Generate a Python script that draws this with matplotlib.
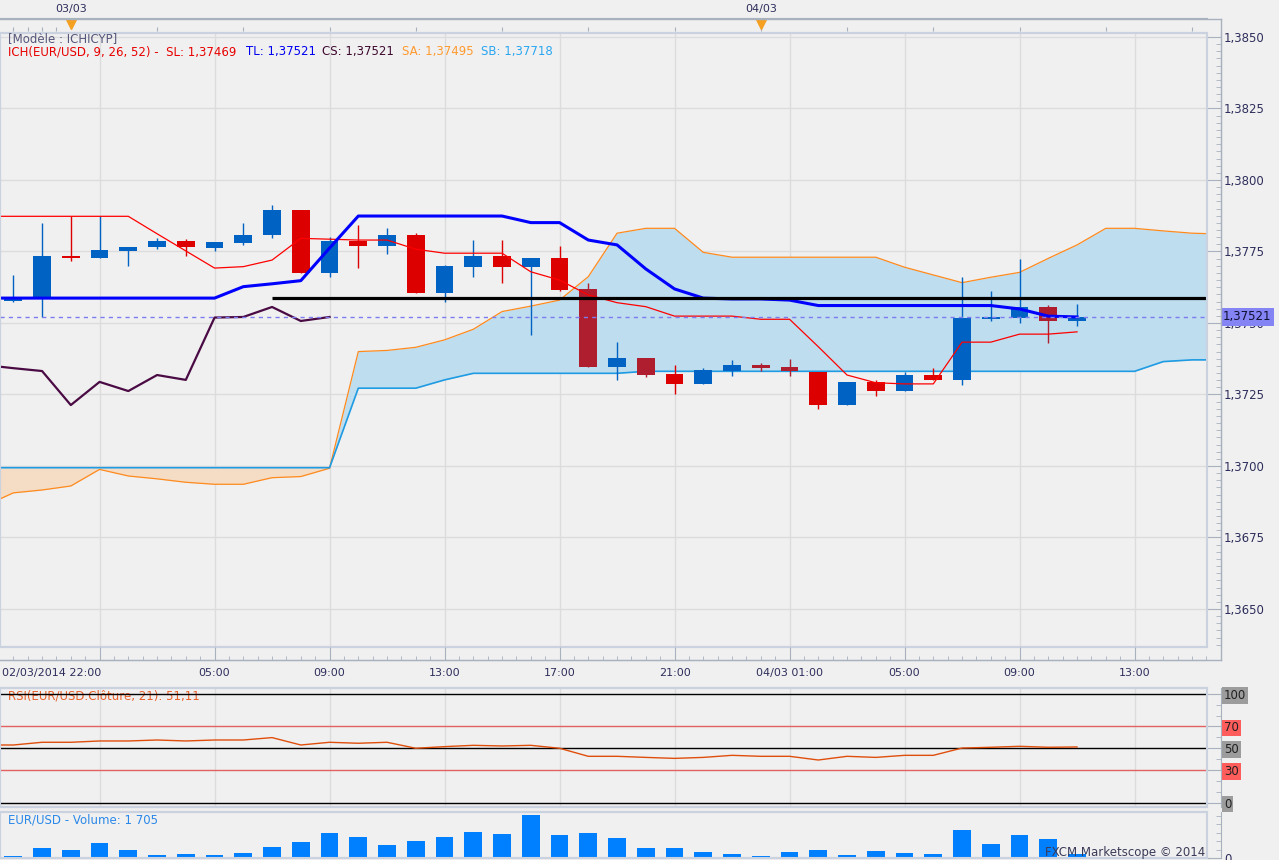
import matplotlib
matplotlib.use("Agg")
import matplotlib.pyplot as plt
import matplotlib.transforms as mtransforms
from matplotlib.lines import Line2D
from matplotlib.patches import Rectangle
from matplotlib.ticker import FuncFormatter, MultipleLocator, FixedLocator
import numpy as np

W, H = 1279, 860
PT = 72 / 100  # points per pixel at dpi 100

# hourly EUR/USD candles, 02/03/2014 22:00 -> 04/03/2014 11:00
OPEN = [1.37578, 1.37583, 1.37734, 1.37728, 1.37753, 1.37764, 1.37787, 1.37762,
        1.37781, 1.37806, 1.37895, 1.37676, 1.37788, 1.37769, 1.37808, 1.37606,
        1.37697, 1.37734, 1.37697, 1.37727, 1.37619, 1.37347, 1.37378, 1.37322,
        1.37287, 1.37332, 1.37353, 1.37346, 1.37329, 1.37213, 1.37294, 1.37262,
        1.37318, 1.37301, 1.37514, 1.37519, 1.37556, 1.37507]
HIGH = [1.37668, 1.37850, 1.37874, 1.37874, 1.37766, 1.37798, 1.37794, 1.37783,
        1.37850, 1.37913, 1.37895, 1.37799, 1.37843, 1.37832, 1.37815, 1.37704,
        1.37790, 1.37790, 1.37728, 1.37769, 1.37640, 1.37434, 1.37378, 1.37353,
        1.37344, 1.37371, 1.37360, 1.37374, 1.37329, 1.37294, 1.37301, 1.37329,
        1.37342, 1.37661, 1.37612, 1.37724, 1.37563, 1.37566]
LOW = [1.37574, 1.37521, 1.37718, 1.37728, 1.37699, 1.37759, 1.37734, 1.37753,
       1.37773, 1.37798, 1.37676, 1.37662, 1.37694, 1.37741, 1.37606, 1.37574,
       1.37662, 1.37641, 1.37458, 1.37613, 1.37347, 1.37301, 1.37311, 1.37252,
       1.37287, 1.37315, 1.37333, 1.37315, 1.37199, 1.37213, 1.37245, 1.37262,
       1.37301, 1.37283, 1.37507, 1.37500, 1.37430, 1.37490]
CLOSE = [1.37592, 1.37734, 1.37728, 1.37755, 1.37766, 1.37787, 1.37764, 1.37783,
         1.37808, 1.37895, 1.37676, 1.37788, 1.37769, 1.37808, 1.37606, 1.37699,
         1.37734, 1.37697, 1.37727, 1.37615, 1.37347, 1.37378, 1.37319, 1.37287,
         1.37336, 1.37353, 1.37342, 1.37332, 1.37213, 1.37294, 1.37262, 1.37318,
         1.37301, 1.37519, 1.37521, 1.37556, 1.37507, 1.37521]
VOLUME = [900, 4200, 3400, 6400, 3400, 1300, 1700, 1300, 2100, 4700, 6800, 10600,
          8900, 5500, 7200, 8900, 11000, 10200, 18300, 9800, 10600, 8500, 4200, 4200,
          2500, 1700, 900, 2500, 3400, 1300, 3000, 2100, 1700, 11900, 6000, 9800,
          8100, 1705]

# indicator lines start one bar before the first visible candle (index -1)
TENKAN = [1.37587, 1.37587, 1.37587, 1.37587, 1.37587, 1.37587, 1.37587, 1.37587,
          1.37587, 1.37627, 1.37637, 1.37648, 1.37762, 1.37874, 1.37874, 1.37874,
          1.37874, 1.37874, 1.37874, 1.37851, 1.37851, 1.37790, 1.37773, 1.37689,
          1.37619, 1.37587, 1.37584, 1.37584, 1.37580, 1.37561, 1.37561, 1.37561,
          1.37561, 1.37561, 1.37561, 1.37561, 1.37549, 1.37524, 1.37521]
KIJUN = [1.37873, 1.37873, 1.37873, 1.37873, 1.37873, 1.37873, 1.37812, 1.37752,
         1.37692, 1.37697, 1.37720, 1.37796, 1.37793, 1.37790, 1.37790, 1.37758,
         1.37744, 1.37744, 1.37744, 1.37679, 1.37650, 1.37598, 1.37571, 1.37557,
         1.37524, 1.37524, 1.37524, 1.37513, 1.37513, 1.37417, 1.37318, 1.37291,
         1.37287, 1.37287, 1.37433, 1.37433, 1.37461, 1.37461, 1.37469]
RSI = [52.9, 52.9, 55.4, 55.4, 56.6, 56.6, 57.5, 56.6, 57.5, 57.5, 59.7, 52.9, 55.4,
       54.5, 55.4, 49.9, 51.4, 52.6, 52.0, 52.6, 49.9, 42.5, 42.5, 41.5, 40.6, 41.5,
       43.4, 42.5, 42.5, 39.1, 42.5, 41.5, 43.4, 43.4, 50.1, 50.8, 51.7, 50.8, 51.1]
# senkou spans (already shifted forward), index -1 .. 42
SENKOU_A = [1.36860, 1.36906, 1.36916, 1.36930, 1.36988, 1.36965, 1.36955, 1.36943,
            1.36936, 1.36936, 1.36959, 1.36963, 1.36992, 1.37400, 1.37404, 1.37415,
            1.37441, 1.37478, 1.37540, 1.37559, 1.37580, 1.37662, 1.37814, 1.37831,
            1.37831, 1.37747, 1.37730, 1.37730, 1.37730, 1.37730, 1.37730, 1.37730,
            1.37695, 1.37668, 1.37641, 1.37660, 1.37677, 1.37726, 1.37773, 1.37831,
            1.37831, 1.37822, 1.37814, 1.37811]
SENKOU_B = [1.36994] * 13 + [1.37272, 1.37272, 1.37272, 1.37301] + [1.37324] * 6 \
    + [1.37331] * 18 + [1.37365, 1.37371, 1.37371]

SUPPORT_LEVEL = 1.37587
SUPPORT_FROM = 9

TIME_TICKS = [3, 7, 11, 15, 19, 23, 27, 31, 35, 39]
TIME_LABELS = ["", "05:00", "09:00", "13:00", "17:00", "21:00", "04/03 01:00",
               "05:00", "09:00", "13:00"]
FIRST_LABEL = "02/03/2014 22:00"
DAY_TICKS = [2, 26]
DAY_LABELS = ["03/03", "04/03"]

BG = "#F0F0F0"
FRAME = "#C9D2DE"
GRID = "#DCDCDC"
AXCOL = "#A8B1BE"
TXT = "#2E2E5C"
BLUE_C = "#0062C2"
RED_C = "#DD0000"
DARKRED_C = "#AE1E2E"

XMIN, XMAX = -0.463, 41.52


def rect(x0, y0, x1, y1):
    return [x0 / W, 1 - y1 / H, (x1 - x0) / W, (y1 - y0) / H]


def fig_line(fig, x0, y0, x1, y1, color=AXCOL, lw=1.0):
    fig.add_artist(Line2D([x0 / W, x1 / W], [1 - y0 / H, 1 - y1 / H],
                          transform=fig.transFigure, color=color, lw=lw))


def style_panel(ax, vgrid=True):
    ax.set_facecolor(BG)
    ax.set_xlim(XMIN, XMAX)
    for s in ("left", "top", "bottom"):
        ax.spines[s].set_color(FRAME)
        ax.spines[s].set_linewidth(1.5)
    ax.spines["right"].set_position(("outward", 14 * PT))
    ax.spines["right"].set_color(AXCOL)
    ax.yaxis.tick_right()
    ax.tick_params(axis="y", which="both", direction="in", colors=AXCOL,
                   labelcolor=TXT, labelsize=8.5)
    ax.tick_params(axis="y", which="major", length=14 * PT, pad=3 * PT)
    ax.tick_params(axis="y", which="minor", length=5 * PT)
    ax.set_xticks(TIME_TICKS)
    ax.tick_params(axis="x", length=0, labelbottom=False)
    if vgrid:
        ax.grid(axis="x", color=GRID, lw=1)
    ax.set_axisbelow(True)
    ax.add_patch(Rectangle((0, 0), 1, 1, transform=ax.transAxes, fill=False,
                           edgecolor=FRAME, lw=1.5, clip_on=False, zorder=20))


fig = plt.figure(figsize=(W / 100, H / 100), dpi=100)
fig.patch.set_facecolor(BG)

# ---------------- main ichimoku panel ----------------
ax = fig.add_axes(rect(0, 33, 1207, 647))
style_panel(ax)
ax.set_ylim(1.36367, 1.38514)
ax.yaxis.set_major_locator(MultipleLocator(0.0025))
ax.yaxis.set_minor_locator(MultipleLocator(0.00025))
ax.yaxis.set_major_formatter(FuncFormatter(lambda v, _: f"{v:.4f}".replace(".", ",")))
ax.grid(axis="y", color=GRID, lw=1)

idx = np.arange(len(CLOSE))
o, h, l, c = map(np.array, (OPEN, HIGH, LOW, CLOSE))
sa, sb = np.array(SENKOU_A), np.array(SENKOU_B)
cx = np.arange(-1, len(sa) - 1)

ax.fill_between(cx, sa, sb, where=sa >= sb, interpolate=True, color="#BEDDEE",
                lw=0, zorder=1)
ax.fill_between(cx, sa, sb, where=sa < sb, interpolate=True, color="#F4DCC5",
                lw=0, zorder=1)
ax.plot(cx, sa, color="#FF8A1E", lw=0.9, zorder=2)
ax.plot(cx, sb, color="#1E9BE3", lw=1.2, zorder=2)

# candles: bearish bars inside the cloud get the darker red
cloud_lo = np.minimum(sa[1:len(c) + 1], sb[1:len(c) + 1])
cloud_hi = np.maximum(sa[1:len(c) + 1], sb[1:len(c) + 1])
mid = (o + c) / 2
colors = []
for i in idx:
    if c[i] >= o[i]:
        colors.append(BLUE_C)
    elif cloud_lo[i] <= mid[i] <= cloud_hi[i]:
        colors.append(DARKRED_C)
    else:
        colors.append(RED_C)
ax.vlines(idx, l, h, colors=colors, lw=1.0, zorder=3)
ax.bar(idx, np.abs(c - o), bottom=np.minimum(o, c), width=0.62, color=colors,
       lw=0, zorder=4)

lx = np.arange(-1, len(TENKAN) - 1)
ax.plot(lx, KIJUN, color="#FF0000", lw=0.9, zorder=5)
ax.plot(lx, TENKAN, color="#0000FF", lw=2.2, zorder=6)
chikou = c[25:]
ax.plot(np.arange(-1, len(chikou) - 1), chikou, color="#4A0A44", lw=1.6, zorder=5)

ax.hlines(SUPPORT_LEVEL, SUPPORT_FROM, XMAX - 0.05, color="black", lw=2.3, zorder=7)
ax.axhline(c[-1], color="#7C7CF0", lw=1.0, ls=(0, (3, 3)), zorder=7)

fig.text(8 / W, 1 - 39 / H, "[Modèle : ICHICYP]", color="#56567A", fontsize=8.5,
         va="center")
for x, s, col in [(8, "ICH(EUR/USD, 9, 26, 52) -  SL: 1,37469", "#E80000"),
                  (246, "TL: 1,37521", "#0000F0"),
                  (322, "CS: 1,37521", "#3E0A30"),
                  (402, "SA: 1,37495", "#FF9A2E"),
                  (481, "SB: 1,37718", "#2AA6F0")]:
    fig.text(x / W, 1 - 52 / H, s, color=col, fontsize=8.5, va="center")

trans = mtransforms.blended_transform_factory(fig.transFigure, ax.transData)
ax.text(1223 / W, c[-1], f"{c[-1]:.5f}".replace(".", ","), transform=trans,
        fontsize=8.5, color="#101030", va="center", ha="left", zorder=30,
        clip_on=False,
        bbox=dict(boxstyle="square,pad=0.2", facecolor="#8484F4", edgecolor="none"))

# ---------------- bottom time strip ----------------
ax_t = fig.add_axes(rect(0, 647, 1207, 660))
ax_t.set_xlim(XMIN, XMAX)
ax_t.set_ylim(0, 1)
ax_t.patch.set_alpha(0)
for s in ("left", "right", "top"):
    ax_t.spines[s].set_visible(False)
ax_t.spines["bottom"].set_color(AXCOL)
ax_t.set_yticks([])
ax_t.set_xticks(TIME_TICKS)
ax_t.set_xticklabels(TIME_LABELS)
ax_t.xaxis.set_minor_locator(MultipleLocator(0.5))
ax_t.tick_params(axis="x", which="major", direction="in", length=13 * PT,
                 colors=AXCOL, labelcolor=TXT, labelsize=8, pad=8 * PT)
ax_t.tick_params(axis="x", which="minor", direction="in", length=4 * PT, colors=AXCOL)
ax_t.text(0.002, -0.62, FIRST_LABEL, transform=ax_t.transAxes, fontsize=8, color=TXT,
          ha="left", va="top")

# ---------------- top date strip ----------------
ax_d = fig.add_axes(rect(0, 18, 1207, 31))
ax_d.set_xlim(XMIN, XMAX)
ax_d.set_ylim(0, 1)
ax_d.patch.set_alpha(0)
for s in ("left", "right", "bottom"):
    ax_d.spines[s].set_visible(False)
ax_d.spines["top"].set_color(AXCOL)
ax_d.set_yticks([])
ax_d.set_xticks([0, 0.5, 1, 1.5] + list(range(5, 42, 3)))
ax_d.tick_params(axis="x", direction="in", length=4 * PT, colors=AXCOL,
                 labelbottom=False)
ax_d.plot(DAY_TICKS, [0.55] * len(DAY_TICKS), "v", color="#F5A021", ms=7,
          clip_on=False)
for x, s in zip(DAY_TICKS, DAY_LABELS):
    ax_d.text(x, 1.7, s, fontsize=8, color=TXT, ha="center", va="center",
              clip_on=False)

# ---------------- RSI panel ----------------
ax_r = fig.add_axes(rect(0, 688, 1207, 807))
style_panel(ax_r)
ax_r.set_ylim(-4.1, 105.3)
ax_r.yaxis.set_major_locator(FixedLocator([0, 30, 50, 70, 100]))
ax_r.yaxis.set_minor_locator(MultipleLocator(10))
for lvl, col in [(100, "black"), (70, "#E26262"), (50, "black"), (30, "#E26262"),
                 (0, "black")]:
    ax_r.axhline(lvl, color=col, lw=1.0, zorder=4)
ax_r.plot(np.arange(-1, len(RSI) - 1), RSI, color="#E04E0C", lw=1.0, zorder=5)
ax_r.text(8 / 1207, 0.93, "RSI(EUR/USD.Clôture, 21): 51,11", transform=ax_r.transAxes,
          color="#E8602A", fontsize=8.5, va="center", zorder=1)
fig.canvas.draw()
for lbl, col in zip(ax_r.get_yticklabels(),
                    ["#9C9C9C", "#FF5C5C", "#9C9C9C", "#FF5C5C", "#9C9C9C"]):
    lbl.set_bbox(dict(boxstyle="square,pad=0.15", facecolor=col, edgecolor="none"))
    lbl.set_color("#202020")

# ---------------- volume panel ----------------
ax_v = fig.add_axes(rect(0, 812, 1207, 858))
style_panel(ax_v, vgrid=False)
ax_v.set_ylim(0, 19500)
ax_v.yaxis.set_major_locator(FixedLocator([0]))
ax_v.yaxis.set_minor_locator(MultipleLocator(3600))
ax_v.bar(idx, VOLUME, width=0.62, color="#0080FF", lw=0, zorder=3)
ax_v.text(8 / 1207, 0.83, "EUR/USD - Volume: 1 705", transform=ax_v.transAxes,
          color="#2A88E8", fontsize=8.5, va="center")
ax_v.text(1205 / 1207, 0.13, "FXCM Marketscope © 2014", transform=ax_v.transAxes,
          color="#3A3A58", fontsize=8.5, ha="right", va="center", zorder=25)

# axis rails shared by the panels
fig_line(fig, 0, 18.5, 1221, 18.5)
fig_line(fig, 1221, 18.5, 1221, 660)
fig_line(fig, 0, 660, 1221, 660)

fig.savefig("out.png", dpi=100, facecolor=BG)
